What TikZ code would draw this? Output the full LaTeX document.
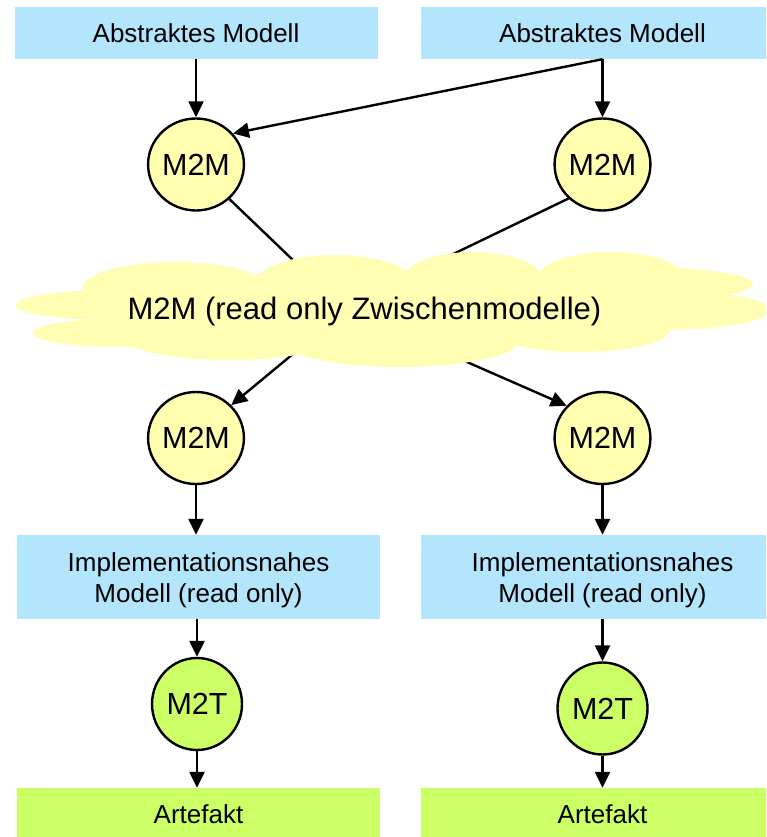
\documentclass[tikz,border=0pt]{standalone}
\usepackage{fontspec}
\setmainfont{Liberation Sans}
\usetikzlibrary{arrows.meta,shapes.geometric}
\definecolor{boxblue}{RGB}{179,229,252}
\definecolor{circyellow}{RGB}{255,255,176}
\definecolor{cloudyellow}{RGB}{255,255,180}
\definecolor{artgreen}{RGB}{204,255,102}
\newcommand{\firststrut}[1]{\rule{0pt}{#1}}
\begin{document}
\begin{tikzpicture}[x=1pt,y=-1pt,
  modelbox/.style={rectangle, fill=boxblue, minimum width=363pt, inner sep=0pt, align=center, font=\fontsize{26}{31}\selectfont},
  artbox/.style={modelbox, fill=artgreen, minimum height=49pt},
  trafo/.style={ellipse, draw=black, line width=2.4pt, fill=circyellow, minimum width=90pt, minimum height=92pt, inner sep=0pt, font=\fontsize{30.5}{36}\selectfont},
  m2t/.style={trafo, fill=artgreen},
  flow/.style={line width=2.4pt, -{Triangle[length=16pt,width=15pt]}},
  plain/.style={line width=2.4pt},
  cloudpart/.style={fill=cloudyellow}]
\clip (0,0) rectangle (766,837);
% boxes
\node[modelbox, minimum height=52pt] (a1) at (196,33) {Abstraktes Modell};
\node[modelbox, minimum height=52pt] (a2) at (602.5,33) {Abstraktes Modell};
\node[modelbox, minimum height=84pt] (i1) at (198.5,577) {\firststrut{25pt}Implementationsnahes\\Modell (read only)};
\node[modelbox, minimum height=84pt] (i2) at (602.5,577) {\firststrut{25pt}Implementationsnahes\\Modell (read only)};
\node[artbox] (r1) at (198.5,812.5) {\firststrut{23pt}Artefakt};
\node[artbox] (r2) at (602.5,812.5) {\firststrut{23pt}Artefakt};
% transformations
\node[trafo] (m1) at (196,164.5) {M2M};
\node[trafo] (m2) at (602.5,164.5) {M2M};
\node[trafo] (m3) at (196,438) {M2M};
\node[trafo] (m4) at (602.5,438) {M2M};
\node[m2t] (t1) at (197,704) {M2T};
\node[m2t] (t2) at (602.5,708.5) {M2T};
% connectors
\draw[flow] (a1.south -| m1) -- (m1.north);
\draw[flow] (a2.south) -- (m2.north);
\draw[flow] (a2.south) -- (m1.40);
\coordinate (cin1) at (320,286);
\coordinate (cin2) at (420,270);
\coordinate (cout1) at (334,320);
\coordinate (cout2) at (394,330);
\draw[plain] (m1.-46) -- (cin1);
\draw[plain] (m2.225) -- (cin2);
\draw[flow] (cout1) -- (m3.43);
\draw[flow] (cout2) -- (m4.138);
\draw[flow] (m3.south) -- (m3.south |- i1.north);
\draw[flow] (m4.south) -- (m4.south |- i2.north);
\draw[flow] (t1.north |- i1.south) -- (t1.north);
\draw[flow] (t2.north |- i2.south) -- (t2.north);
\draw[flow] (t1.south) -- (t1.south |- r1.north);
\draw[flow] (t2.south) -- (t2.south |- r2.north);
% cloud
\fill[cloudpart] (110,305) ellipse [x radius=94pt, y radius=15pt];
\fill[cloudpart] (115,333) ellipse [x radius=82pt, y radius=14pt];
\fill[cloudpart] (175,288) ellipse [x radius=92pt, y radius=26pt];
\fill[cloudpart] (335,282) ellipse [x radius=78pt, y radius=27pt];
\fill[cloudpart] (473,280) ellipse [x radius=70pt, y radius=28pt];
\fill[cloudpart] (611,280) ellipse [x radius=75pt, y radius=28pt];
\fill[cloudpart] (640,284) ellipse [x radius=113pt, y radius=17pt];
\fill[cloudpart] (660,310) ellipse [x radius=110pt, y radius=20pt];
\fill[cloudpart] (580,330) ellipse [x radius=90pt, y radius=22pt];
\fill[cloudpart] (400,340) ellipse [x radius=120pt, y radius=27pt];
\fill[cloudpart] (230,335) ellipse [x radius=110pt, y radius=25pt];
\fill[cloudpart] (390,310) ellipse [x radius=300pt, y radius=40pt];
\node[font=\fontsize{31}{36}\selectfont, anchor=base, inner sep=0pt] (cloud) at (364.5,319) {M2M (read only Zwischenmodelle)};
\end{tikzpicture}
\end{document}
